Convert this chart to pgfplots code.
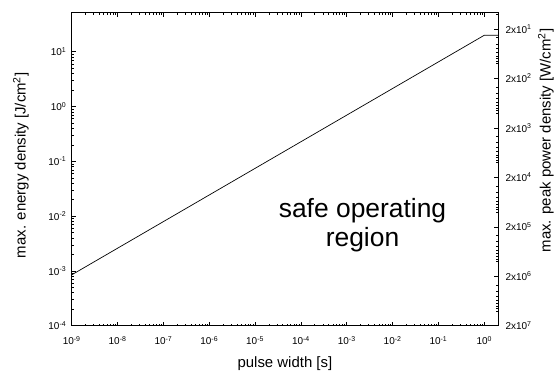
\documentclass[border=0pt]{standalone}
\usepackage{fontspec}
\setmainfont{Liberation Sans}
\usepackage{pgfplots}
\pgfplotsset{compat=1.18}
\begin{document}
\begin{tikzpicture}
\path (-72pt,-47pt) rectangle (485pt,327pt);
\begin{axis}[
  at={(0,0)}, anchor=south west,
  scale only axis, width=428pt, height=314pt,
  xmode=log, ymode=log,
  xmin=1e-9, xmax=2, ymin=1e-4, ymax=51,
  xtick={1e-9,1e-8,1e-7,1e-6,1e-5,1e-4,1e-3,1e-2,1e-1,1e0},
  xticklabels={10\textsuperscript{-9},10\textsuperscript{-8},10\textsuperscript{-7},10\textsuperscript{-6},10\textsuperscript{-5},10\textsuperscript{-4},10\textsuperscript{-3},10\textsuperscript{-2},10\textsuperscript{-1},10\textsuperscript{0}},
  ytick={1e-4,1e-3,1e-2,1e-1,1e0,1e1},
  yticklabels={10\textsuperscript{-4},10\textsuperscript{-3},10\textsuperscript{-2},10\textsuperscript{-1},10\textsuperscript{0},10\textsuperscript{1}},
  xtick pos=both, ytick pos=left,
  tick align=inside,
  major tick length=4pt, minor tick length=2pt,
  tick style={black, line width=0.6pt},
  tick label style={font=\fontsize{10}{11}\selectfont},
  xticklabel style={yshift=-7pt},
  yticklabel style={xshift=-2pt},
  axis line style={line width=1pt},
  xlabel={pulse width [s]},
  ylabel={max. energy density [J/cm\textsuperscript{2}]},
  label style={font=\fontsize{15}{17}\selectfont},
  xlabel style={at={(axis description cs:0.5,-0.121)}, anchor=center},
  ylabel style={at={(axis description cs:-0.119,0.513)}, anchor=center},
]
\addplot[black, line width=0.7pt] coordinates {(1e-9,8.5e-4) (1,20) (2,20)};
\node[align=center, font=\fontsize{26.5}{29}\selectfont] at (axis description cs:0.682,0.322) {safe operating\\region};
\end{axis}
\begin{axis}[
  at={(0,0)}, anchor=south west,
  scale only axis, width=428pt, height=314pt,
  xmin=0, xmax=1,
  ymode=log, y dir=reverse, ymin=9.5, ymax=2e7,
  hide x axis, axis y line*=right,
  ytick={2e1,2e2,2e3,2e4,2e5,2e6,2e7},
  yticklabels={2x10\textsuperscript{1},2x10\textsuperscript{2},2x10\textsuperscript{3},2x10\textsuperscript{4},2x10\textsuperscript{5},2x10\textsuperscript{6},2x10\textsuperscript{7}},
  minor ytick={1e1,3e1,4e1,5e1,6e1,7e1,8e1,9e1,1e2,3e2,4e2,5e2,6e2,7e2,8e2,9e2,1e3,3e3,4e3,5e3,6e3,7e3,8e3,9e3,1e4,3e4,4e4,5e4,6e4,7e4,8e4,9e4,1e5,3e5,4e5,5e5,6e5,7e5,8e5,9e5,1e6,3e6,4e6,5e6,6e6,7e6,8e6,9e6,1e7},
  tick align=inside,
  major tick length=4pt, minor tick length=2pt,
  tick style={black, line width=0.6pt},
  tick label style={font=\fontsize{10}{11}\selectfont},
  yticklabel style={xshift=4pt},
  axis line style={line width=1pt},
  ylabel={max. peak power density [W/cm\textsuperscript{2}]},
  label style={font=\fontsize{15}{17}\selectfont},
  ylabel style={at={(axis description cs:1.112,0.592)}, anchor=center},
]
\addplot[draw=none] coordinates {(0.5,100)};
\end{axis}
\end{tikzpicture}
\end{document}
